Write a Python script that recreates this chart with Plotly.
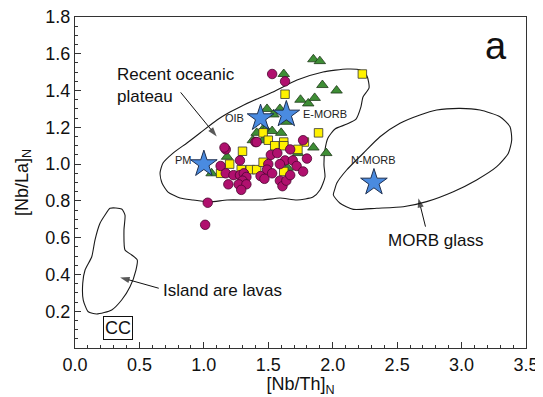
import plotly.graph_objects as go

# ---- data ----
circle_x = [1.53, 1.63, 1.17, 1.28, 1.40, 1.77, 1.67, 1.52, 1.57, 1.63, 1.69, 1.80, 1.13, 1.17, 1.23,
            1.28, 1.31, 1.33, 1.30, 1.27, 1.33, 1.29, 1.19, 1.50, 1.49, 1.44, 1.47, 1.53, 1.59, 1.59,
            1.61, 1.64, 1.72, 1.77, 1.67, 1.03, 1.01, 1.16, 1.41]
circle_y = [1.49, 1.45, 1.08, 1.02, 1.12, 1.13, 1.08, 1.05, 1.06, 1.02, 1.02, 1.03, 0.99, 0.95, 0.94,
            0.94, 0.95, 0.93, 0.91, 0.89, 0.89, 0.86, 0.89, 1.00, 0.97, 0.935, 0.92, 0.95, 1.00, 0.91,
            0.88, 0.91, 0.99, 0.96, 0.94, 0.79, 0.67, 1.09, 1.12]

square_x = [2.23, 1.63, 1.89, 1.78, 1.30, 1.46, 1.50, 1.55, 1.62, 1.62, 1.20, 1.13, 1.29, 1.36, 1.41,
            1.46, 1.62, 1.73, 1.31]
square_y = [1.49, 1.38, 1.17, 1.12, 1.07, 1.17, 1.13, 1.10, 1.12, 1.10, 1.00, 0.95, 0.97, 0.97, 0.97,
            1.01, 0.96, 1.08, 0.94]

triangle_x = [1.85, 1.90, 1.62, 1.92, 2.03, 1.75, 1.81, 1.86, 1.49, 1.59, 1.54, 1.64, 1.47, 1.44,
              1.41, 1.48, 1.53, 1.60, 1.38, 1.46, 1.85, 1.95, 1.18, 1.06, 1.73, 1.65]
triangle_y = [1.57, 1.56, 1.49, 1.43, 1.40, 1.35, 1.33, 1.36, 1.30, 1.30, 1.27, 1.23, 1.20, 1.26,
              1.17, 1.19, 1.18, 1.17, 1.13, 1.13, 1.09, 1.06, 1.04, 0.95, 1.06, 0.98]

star_names = ["PM", "OIB", "E-MORB", "N-MORB"]
star_x = [1.00, 1.44, 1.64, 2.32]
star_y = [1.00, 1.25, 1.27, 0.90]

plateau_x = [0.660, 0.683, 0.761, 0.869, 0.970, 1.102, 1.203, 1.280, 1.412, 1.537, 1.723, 1.925,
             2.111, 2.212, 2.266, 2.282, 2.235, 2.219, 2.181, 2.111, 2.018, 1.963, 1.940, 1.932,
             1.940, 1.901, 1.847, 1.723, 1.591, 1.459, 1.335, 1.180, 1.048, 0.916, 0.815, 0.722,
             0.675, 0.660]
plateau_y = [0.952, 1.006, 1.060, 1.115, 1.169, 1.240, 1.283, 1.311, 1.354, 1.392, 1.457, 1.501,
             1.517, 1.512, 1.479, 1.414, 1.365, 1.311, 1.245, 1.218, 1.191, 1.142, 1.077, 0.995,
             0.930, 0.859, 0.821, 0.805, 0.816, 0.805, 0.805, 0.805, 0.794, 0.805, 0.816, 0.848,
             0.897, 0.952]

morb_x = [2.018, 2.031, 2.108, 2.237, 2.367, 2.522, 2.677, 2.807, 2.988, 3.143, 3.298, 3.376,
          3.389, 3.363, 3.273, 3.117, 2.936, 2.729, 2.548, 2.341, 2.160, 2.057, 2.005, 2.018]
morb_y = [0.868, 0.896, 0.968, 1.059, 1.149, 1.222, 1.267, 1.294, 1.303, 1.294, 1.258, 1.203,
          1.131, 1.059, 0.986, 0.914, 0.850, 0.796, 0.768, 0.760, 0.754, 0.787, 0.832, 0.868]

arc_x = [0.272, 0.362, 0.388, 0.380, 0.388, 0.440, 0.483, 0.473, 0.427, 0.362, 0.285, 0.168,
         0.103, 0.064, 0.060, 0.078, 0.130, 0.155, 0.194, 0.233, 0.272]
arc_y = [0.760, 0.756, 0.723, 0.642, 0.533, 0.506, 0.479, 0.424, 0.333, 0.261, 0.207, 0.185,
         0.197, 0.261, 0.352, 0.424, 0.496, 0.587, 0.678, 0.723, 0.760]

# arrows: (tail_x, tail_y, head_x, head_y)
arrows = [(0.82, 1.39, 1.10, 1.15),
          (2.72, 0.66, 2.665, 0.815),
          (0.65, 0.325, 0.35, 0.384)]

x_ticks = [0.0, 0.5, 1.0, 1.5, 2.0, 2.5, 3.0, 3.5]
y_ticks = [0.2, 0.4, 0.6, 0.8, 1.0, 1.2, 1.4, 1.6, 1.8]

FONT = "Liberation Sans, Arial, sans-serif"
INK = "#111"

fig = go.Figure()
for px_, py_ in [(plateau_x, plateau_y), (morb_x, morb_y), (arc_x, arc_y)]:
    fig.add_trace(go.Scatter(x=px_, y=py_, mode="lines",
                             line=dict(color="#1a1a1a", width=1.1, shape="spline", smoothing=0.6),
                             hoverinfo="skip"))

for tx, ty, hx, hy in arrows:
    fig.add_trace(go.Scatter(x=[tx, hx], y=[ty, hy], mode="lines+markers",
                             line=dict(color=INK, width=1),
                             marker=dict(symbol="arrow", size=[0, 10], angleref="previous",
                                         color=INK, line=dict(width=0)),
                             hoverinfo="skip"))

fig.add_trace(go.Scatter(x=triangle_x, y=triangle_y, mode="markers",
                         marker=dict(symbol="triangle-up", size=10, color="#3E8E35",
                                     line=dict(color="#1f3a1a", width=0.8))))
fig.add_trace(go.Scatter(x=square_x, y=square_y, mode="markers",
                         marker=dict(symbol="square", size=8.5, color="#FFF200",
                                     line=dict(color="#333", width=0.8))))
fig.add_trace(go.Scatter(x=circle_x, y=circle_y, mode="markers",
                         marker=dict(symbol="circle", size=9.5, color="#B0106E",
                                     line=dict(color="#4a0630", width=0.8))))
fig.add_trace(go.Scatter(x=star_x, y=star_y, mode="markers",
                         marker=dict(symbol="star", size=20, color="#4A8BE0",
                                     line=dict(color="#1e2f50", width=1))))

anns = []
lab_pos = {"PM": ("right", -0.08, 0.02), "OIB": ("right", -0.11, 0.0),
           "E-MORB": ("left", 0.11, 0.0), "N-MORB": ("center", 0.0, 0.12)}
for n, sx, sy in zip(star_names, star_x, star_y):
    xa, dx, dy = lab_pos[n]
    anns.append(dict(x=sx + dx, y=sy + dy, text=n, showarrow=False, xanchor=xa,
                     font=dict(size=11, color="#222", family=FONT)))

anns += [
    dict(x=0.31, y=1.425, text="Recent oceanic<br>plateau", showarrow=False, xanchor="left",
         yanchor="middle", align="left", font=dict(size=17, color=INK, family=FONT)),
    dict(x=2.80, y=0.587, text="MORB glass", showarrow=False, xanchor="center",
         font=dict(size=17, color=INK, family=FONT)),
    dict(x=0.665, y=0.315, text="Island are lavas", showarrow=False, xanchor="left",
         font=dict(size=17, color=INK, family=FONT)),
    dict(x=0.33, y=0.11, text="CC", showarrow=False, bordercolor=INK, borderwidth=1,
         borderpad=1, font=dict(size=18, color=INK, family=FONT)),
    dict(x=3.27, y=1.64, text="a", showarrow=False,
         font=dict(size=38, color=INK, family=FONT)),
]

axis_common = dict(showgrid=False, zeroline=False, showline=True, linecolor="#333",
                   linewidth=1, mirror=True, ticks="inside", ticklen=6, tickcolor="#333",
                   automargin=False, ticklabeloverflow="allow",
                   tickfont=dict(size=18, color=INK, family=FONT))
fig.update_xaxes(range=[0, 3.5], tickvals=x_ticks, ticktext=[f"{v:.1f}" for v in x_ticks],
                 minor=dict(dtick=0.1, ticks="inside", ticklen=3, tickcolor="#333"),
                 title=dict(text="[Nb/Th]<sub>N</sub>", standoff=6,
                            font=dict(size=18, color=INK, family=FONT)),
                 **axis_common)
fig.update_yaxes(range=[0, 1.8], tickvals=y_ticks, ticktext=[f"{v:.1f}" for v in y_ticks],
                 minor=dict(dtick=0.05, ticks="inside", ticklen=3, tickcolor="#333"),
                 title=dict(text="[Nb/La]<sub>N</sub>", standoff=12,
                            font=dict(size=18, color=INK, family=FONT)),
                 **axis_common)
# the page body adds an 8px offset; size the figure so the plot lands where the reference has it
fig.update_layout(width=535, height=389, margin=dict(l=67, r=17, t=9, b=49),
                  plot_bgcolor="white", paper_bgcolor="white", showlegend=False,
                  annotations=anns)
fig.write_html("out.html")
